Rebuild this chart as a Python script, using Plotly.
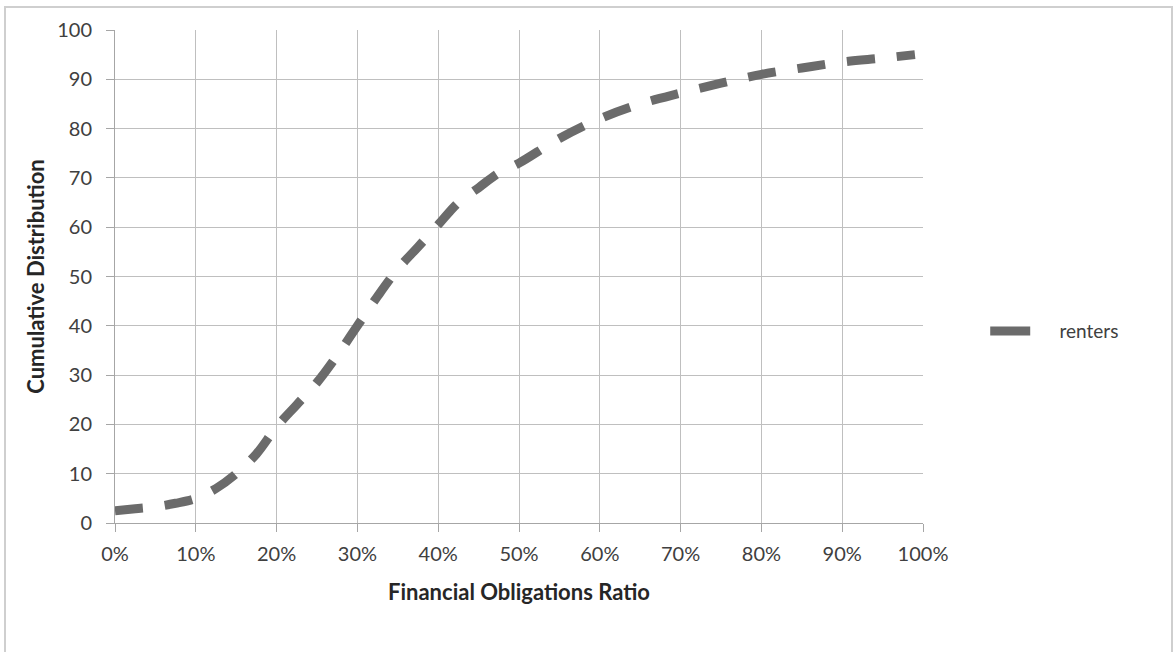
import plotly.graph_objects as go

ratio_pct = [0, 2.5, 5, 7.5, 10, 12.5, 15, 17.5, 20, 22.5, 25, 27.5, 30, 32.5, 35, 37.5, 40, 42.5, 45, 47.5, 50,
             55, 60, 65, 70, 75, 80, 85, 90, 95, 99]
renters = [2.5, 2.9, 3.3, 4.0, 5.0, 7.0, 10.0, 14.0, 19.5, 24.0, 28.5, 34.0, 40.0, 46.0, 51.5, 56.0, 60.5, 65.0, 68.0, 71.0, 73.0,
           78.0, 82.0, 85.0, 87.2, 89.2, 91.0, 92.3, 93.5, 94.3, 95.0]
x_ticks = list(range(0, 101, 10))
x_tick_labels = [f"{v}%" for v in x_ticks]
y_ticks = list(range(0, 101, 10))

font_family = "Lato, 'Open Sans', sans-serif"
line_color = "#6b6b6b"

fig = go.Figure()
fig.add_trace(go.Scatter(
    x=ratio_pct, y=renters, mode="lines", name="renters", showlegend=False,
    line=dict(color=line_color, width=9, dash="28px,22px", shape="spline"),
))
# legend entry (solid sample as in reference)
fig.add_trace(go.Scatter(
    x=[None], y=[None], mode="lines", name="\u00a0\u00a0\u00a0\u00a0\u00a0renters", showlegend=True,
    line=dict(color=line_color, width=9),
))

fig.update_layout(
    width=1176, height=652,
    margin=dict(l=115, r=253, t=30, b=129),
    paper_bgcolor="white", plot_bgcolor="white",
    font=dict(family=font_family, color="#404040", size=19),
    showlegend=True,
    legend=dict(x=1.077, y=0.389, xanchor="left", yanchor="middle",
                font=dict(size=19, color="#404040"), itemwidth=40,
                bgcolor="rgba(0,0,0,0)"),
    xaxis=dict(range=[0, 100], tickmode="array", tickvals=x_ticks, ticktext=x_tick_labels,
               showgrid=True, gridcolor="#bfbfbf", gridwidth=1,
               showline=True, linecolor="#a6a6a6", linewidth=1,
               ticks="outside", ticklen=8, tickcolor="#a6a6a6", ticklabelstandoff=5,
               zeroline=False, tickfont=dict(size=20, color="#404040"),
               title=dict(text="<b>Financial Obligations Ratio</b>", font=dict(size=22, color="#262626"),
                          standoff=20)),
    yaxis=dict(range=[0, 100], tickvals=y_ticks,
               showgrid=True, gridcolor="#bfbfbf", gridwidth=1,
               showline=True, linecolor="#a6a6a6", linewidth=1,
               ticks="outside", ticklen=8, tickcolor="#a6a6a6", ticklabelstandoff=10,
               zeroline=False, tickfont=dict(size=20, color="#404040"),
               title=dict(text="<b>Cumulative Distribution</b>", font=dict(size=22, color="#262626"),
                          standoff=6)),
)

fig.add_shape(type="rect", xref="paper", yref="paper",
              x0=(5 - 115) / 808, x1=(1172 - 115) / 808,
              y0=(523 - 700) / 493, y1=(523 - 7) / 493,
              line=dict(color="#cfcfcf", width=2), fillcolor="rgba(0,0,0,0)", layer="below")

fig.write_html("out.html")
